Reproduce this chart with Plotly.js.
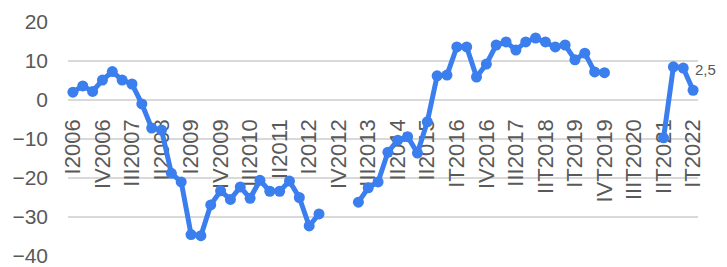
<!DOCTYPE html>
<html><head><meta charset="utf-8">
<script src="https://cdn.plot.ly/plotly-3.0.1.min.js"></script>
<style>html,body{margin:0;padding:0;background:#fff}</style>
</head><body><div id="chart" style="width:727px;height:267px"></div>
<script>
const quarters = [
  "I2006","II2006","III2006","IV2006","I2007","II2007","III2007","IV2007",
  "I2008","II2008","III2008","IV2008","I2009","II2009","III2009","IV2009",
  "I2010","II2010","III2010","IV2010","I2011","II2011","III2011","IV2011",
  "I2012","II2012","III2012","IV2012","I2013","II2013","III2013","IV2013",
  "I2014","II2014","III2014","IV2014","II2015","III2015","IV2015","IT2016",
  "IIT2016","IIIT2016","IV2016","IT2017","IIT2017","III2017","IVT2017","IT2018",
  "IIT2018","IIIT2018","IVT2018","IT2019","IIT2019","IIIT2019","IVT2019","IT2020",
  "IIT2020","IIIT2020","IVT2020","IT2021","IIT2021","IIIT2021","IVT2021","IT2022"
];
const values = [
  2.0, 3.6, 2.2, 5.1, 7.3, 5.1, 4.1, -1.0,
  -7.2, -7.7, -18.8, -21.0, -34.5, -34.8, -26.9, -23.3,
  -25.5, -22.3, -25.2, -20.6, -23.4, -23.4, -20.8, -25.0,
  -32.3, -29.2, null, null, null, -26.2, -22.5, -21.0,
  -13.4, -10.3, -9.4, -13.6, -5.6, 6.2, 6.4, 13.6,
  13.6, 5.9, 9.2, 14.1, 14.9, 12.8, 14.9, 15.9,
  14.9, 13.6, 14.1, 10.3, 12.0, 7.2, 7.0, null,
  null, null, null, null, -9.7, 8.5, 8.2, 2.5
];
const tickLabels = ["I2006","IV2006","III2007","II2008","I2009","IV2009","III2010","II2011",
  "I2012","IV2012","III2013","II2014","II2015","IT2016","IV2016","III2017","IIT2018",
  "IT2019","IVT2019","IIIT2020","IIT2021","IT2022"];
const yTicks = [-40, -30, -20, -10, 0, 10, 20];
const lastLabel = "2,5";

const fam = "Liberation Sans, Arial, sans-serif";
const trace = {
  x: quarters, y: values, type: "scatter", mode: "lines+markers",
  connectgaps: false,
  line: {color: "#3b7eed", width: 5},
  marker: {color: "#3b7eed", size: 11},
  cliponaxis: false, hoverinfo: "skip"
};
const layout = {
  width: 727, height: 267,
  margin: {l: 68, r: 29, t: 22, b: 11},
  paper_bgcolor: "#fff", plot_bgcolor: "#fff",
  showlegend: false,
  font: {family: fam, size: 20, color: "#595959"},
  xaxis: {
    type: "category", categoryorder: "array", categoryarray: quarters,
    range: [-0.5, quarters.length - 0.5],
    anchor: "free", position: 0.607,
    tickmode: "array", tickvals: tickLabels, ticktext: tickLabels,
    tickangle: -90, ticks: "", showline: false, showgrid: false, zeroline: false,
    layer: "below traces", ticklabeloverflow: "allow",
    tickfont: {family: fam, size: 22, color: "#595959"}
  },
  yaxis: {
    range: [-40, 20], tickvals: yTicks, showgrid: true, gridcolor: "#d9d9d9", gridwidth: 1.5,
    zeroline: false, showline: false, ticks: "", ticklabelstandoff: 19,
    ticklabeloverflow: "allow",
    tickfont: {family: fam, size: 21, color: "#595959"}
  },
  annotations: [{
    x: quarters[quarters.length - 1], y: values[values.length - 1], xref: "x", yref: "y",
    text: lastLabel, showarrow: false, xanchor: "left", yanchor: "middle",
    xshift: 0, yshift: 21, font: {family: fam, size: 15, color: "#595959"}
  }]
};
Plotly.newPlot("chart", [trace], layout, {staticPlot: true, displayModeBar: false});
</script></body></html>
